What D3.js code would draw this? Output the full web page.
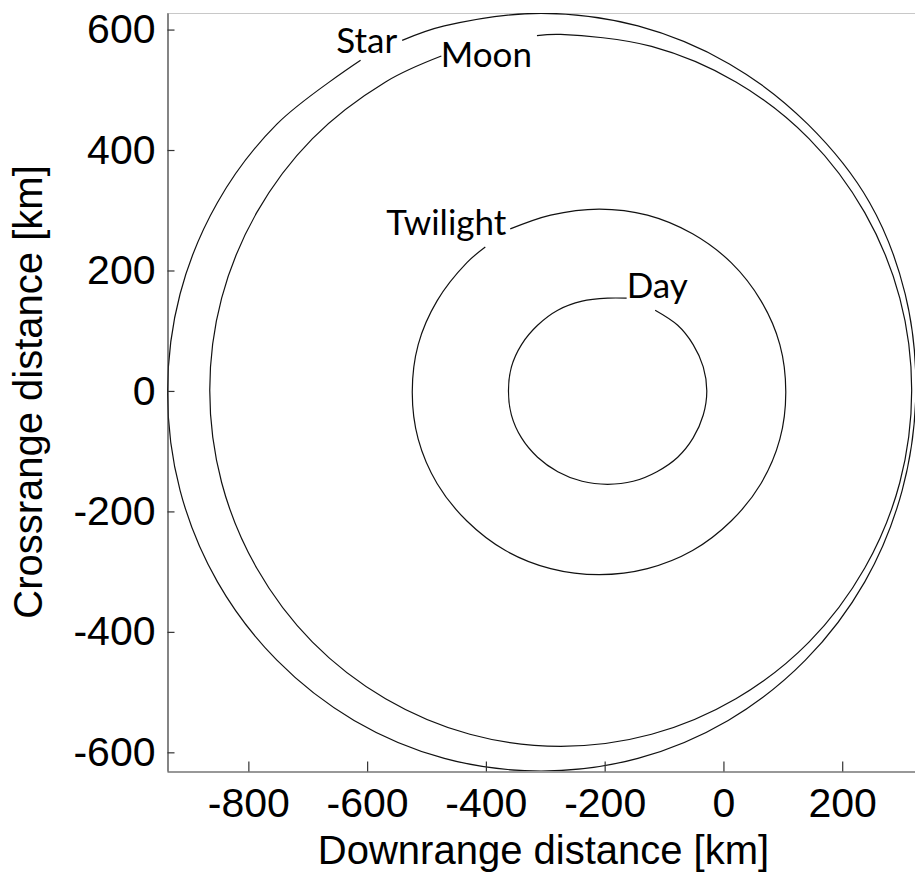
<!DOCTYPE html>
<html>
<head>
<meta charset="utf-8">
<script src="https://cdn.jsdelivr.net/npm/d3@7"></script>
<style>
  body { margin: 0; background: #fff; }
</style>
</head>
<body>
<script>
// contour lines (km), each one runs from one end of its label gap round to the other end
var contourNames = ["Star", "Moon", "Twilight", "Day"];

var starX = [-541, -470, -307, -144, 10, 142, 246, 306, 324, 301, 238, 138, 8, -144, -307,
             -470, -622, -752, -852, -915, -936, -915, -852, -752, -611];
var starY = [582, 606, 627, 606, 543, 443, 313, 161, -2, -165, -317, -447, -547, -610, -631,
             -610, -547, -447, -317, -165, -2, 161, 313, 443, 549];

var moonX = [-314, -274, -121, 21, 144, 238, 297, 317, 297, 238, 144, 21, -121, -274,
             -427, -569, -692, -786, -845, -865, -845, -786, -692, -569, -475];
var moonY = [590, 592, 572, 513, 419, 296, 154, 1, -152, -294, -417, -511, -570, -590,
             -570, -511, -417, -294, -152, 1, 154, 296, 419, 513, 556];

var twilightX = [-359, -291, -209, -128, -52, 13, 63, 95, 105, 95, 63, 13, -52, -128, -209,
                 -291, -367, -432, -482, -514, -524, -514, -482, -432, -401];
var twilightY = [269, 292, 302, 292, 261, 213, 150, 77, -2, -80, -154, -216, -265, -295, -305,
                 -295, -265, -216, -154, -80, -2, 77, 150, 213, 239];

var dayX = [-115, -77, -51, -34, -28, -34, -51, -77, -112, -152, -195, -238, -279, -313,
            -340, -357, -362, -357, -340, -313, -279, -238, -195, -163];
var dayY = [134, 109, 77, 40, 0, -40, -78, -110, -134, -150, -155, -150, -134, -110,
            -78, -40, 0, 40, 77, 109, 134, 149, 154, 154];

// label anchors (km): left end of the text, on its baseline
var labelX = [-652, -476, -568, -163];
var labelY = [561, 538, 259, 154];

var xTicks = [-800, -600, -400, -200, 0, 200];
var yTicks = [-600, -400, -200, 0, 200, 400, 600];

var w = 915, h = 880;
var pLeft = 167, pRight = 920, pTop = 13, pBottom = 771;

var svg = d3.select("body").append("svg").attr("width", w).attr("height", h);

var xS = d3.scaleLinear().domain([-937, 331]).range([pLeft, pRight]);
var yS = d3.scaleLinear().domain([-631, 627.5]).range([pBottom, pTop]);

svg.append("clipPath").attr("id", "plot")
  .append("rect").attr("x", pLeft).attr("y", pTop).attr("width", pRight - pLeft).attr("height", pBottom - pTop);

var contours = [
  d3.zip(starX, starY),
  d3.zip(moonX, moonY),
  d3.zip(twilightX, twilightY),
  d3.zip(dayX, dayY)
];

var line = d3.line()
  .x(function(d) { return xS(d[0]); })
  .y(function(d) { return yS(d[1]); })
  .curve(d3.curveCatmullRom);

// top edge of the box, light
svg.append("line")
  .attr("x1", pLeft).attr("x2", pRight).attr("y1", pTop + 0.5).attr("y2", pTop + 0.5)
  .attr("stroke", "#c8c8c8").attr("stroke-width", 1);

svg.append("g").attr("clip-path", "url(#plot)")
  .selectAll("path").data(contours).enter().append("path")
  .attr("d", line)
  .attr("fill", "none")
  .attr("stroke", "#111")
  .attr("stroke-width", 1.2);

svg.selectAll("text.clabel").data(contourNames).enter().append("text")
  .attr("class", "clabel")
  .text(function(d) { return d; })
  .attr("x", function(d, i) { return xS(labelX[i]); })
  .attr("y", function(d, i) { return yS(labelY[i]); })
  .attr("font-family", "Lato, 'Open Sans', sans-serif")
  .attr("font-size", "35px")
  .attr("fill", "#000");

var fmt = function(d) { return String(d); };
var xA = d3.axisBottom(xS).tickValues(xTicks).tickFormat(fmt).tickSizeInner(-10).tickSizeOuter(0).tickPadding(16);
var yA = d3.axisLeft(yS).tickValues(yTicks).tickFormat(fmt).tickSizeInner(-7).tickSizeOuter(0).tickPadding(12);

var gx = svg.append("g").attr("transform", "translate(0," + (pBottom + 0.5) + ")").call(xA);
var gy = svg.append("g").attr("transform", "translate(" + (pLeft + 0.5) + ",0)").call(yA);

[gx, gy].forEach(function(g) {
  g.selectAll("path.domain").attr("stroke", "#333").attr("stroke-width", 1.2);
  g.selectAll(".tick line").attr("stroke", "#333").attr("stroke-width", 1.2);
  g.selectAll(".tick text")
    .attr("font-family", "'Liberation Sans', Arial, sans-serif")
    .attr("font-size", "41px")
    .attr("fill", "#000");
});

svg.append("text")
  .text("Downrange distance [km]")
  .attr("x", (pLeft + pRight) / 2).attr("y", 864)
  .attr("text-anchor", "middle")
  .attr("font-family", "'Liberation Sans', Arial, sans-serif")
  .attr("font-size", "40px");

svg.append("text")
  .text("Crossrange distance [km]")
  .attr("transform", "translate(42," + (pTop + pBottom) / 2 + ") rotate(-90)")
  .attr("text-anchor", "middle")
  .attr("font-family", "'Liberation Sans', Arial, sans-serif")
  .attr("font-size", "40px");
</script>
</body>
</html>
